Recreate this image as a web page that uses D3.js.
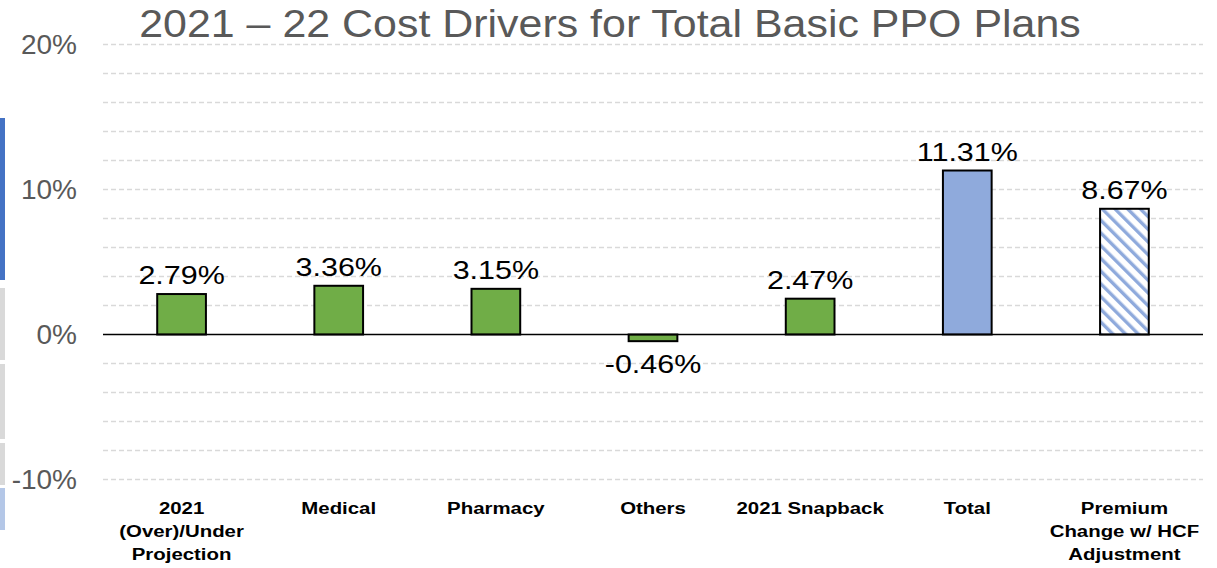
<!DOCTYPE html>
<html>
<head>
<meta charset="utf-8">
<script src="https://cdn.jsdelivr.net/npm/d3@7.9.0/dist/d3.min.js"></script>
<style>
  body { margin: 0; background: #fff; }
  svg { display: block; font-family: "Liberation Sans", Arial, sans-serif; }
</style>
</head>
<body>
<svg id="chart" width="1217" height="568"></svg>
<script>
const categories = [
  "2021\n(Over)/Under\nProjection",
  "Medical",
  "Pharmacy",
  "Others",
  "2021 Snapback",
  "Total",
  "Premium\nChange w/ HCF\nAdjustment"
];
const values = [2.79, 3.36, 3.15, -0.46, 2.47, 11.31, 8.67];
const barKinds = ["driver", "driver", "driver", "driver", "driver", "total", "premium"];
const yTicks = [-10, 0, 10, 20];
const yGrid = d3.range(-10, 20.1, 2);

const svg = d3.select("#chart");

// slide edge strips on the far left
const strips = [
  { y0: 118, y1: 280, c: "#4472c4" },
  { y0: 288, y1: 360, c: "#d9d9d9" },
  { y0: 364, y1: 439, c: "#d9d9d9" },
  { y0: 443, y1: 485, c: "#d9d9d9" },
  { y0: 488, y1: 530, c: "#b4c7e7" }
];
svg.selectAll("rect.strip").data(strips).enter().append("rect")
  .attr("class", "strip")
  .attr("x", 0).attr("width", 5)
  .attr("y", d => d.y0).attr("height", d => d.y1 - d.y0)
  .attr("fill", d => d.c);

const x = d3.scaleBand().domain(categories).range([103, 1203]).paddingInner(0.69).paddingOuter(0.345);
const y = d3.scaleLinear().domain([-10, 20]).range([479.5, 44.5]);

// hatch pattern (downward diagonal)
const defs = svg.append("defs");
const pat = defs.append("pattern")
  .attr("id", "hatch").attr("patternUnits", "userSpaceOnUse")
  .attr("width", 9).attr("height", 9)
  .attr("patternTransform", "rotate(-45)");
pat.append("rect").attr("width", 9).attr("height", 9).attr("fill", "#fff");
pat.append("rect").attr("x", 0).attr("width", 3.4).attr("height", 9).attr("fill", "#8faadc");

// gridlines
svg.append("g").selectAll("line").data(yGrid.filter(v => v !== 0)).enter().append("line")
  .attr("x1", 103).attr("x2", 1203)
  .attr("y1", d => y(d)).attr("y2", d => y(d))
  .attr("stroke", "#d9d9d9").attr("stroke-width", 1.5)
  .attr("stroke-dasharray", "5,3");

// y tick labels
svg.append("g").selectAll("text").data(yTicks).enter().append("text")
  .attr("x", 77).attr("y", d => y(d))
  .attr("text-anchor", "end").attr("dominant-baseline", "central")
  .attr("fill", "#595959").attr("font-size", 28)
  .text(d => d + "%");

const fillFor = k => k === "driver" ? "#70ad47" : k === "total" ? "#8faadc" : "url(#hatch)";

// bars
svg.append("g").selectAll("rect").data(values).enter().append("rect")
  .attr("x", (d, i) => x(categories[i]))
  .attr("width", x.bandwidth())
  .attr("y", d => y(Math.max(0, d)))
  .attr("height", d => Math.abs(y(d) - y(0)))
  .attr("fill", (d, i) => fillFor(barKinds[i]))
  .attr("stroke", "#000").attr("stroke-width", 2);

// zero line
svg.append("line")
  .attr("x1", 103).attr("x2", 1203)
  .attr("y1", y(0)).attr("y2", y(0))
  .attr("stroke", "#000").attr("stroke-width", 1.5);

// data labels (text in the source is a bit wide, so stretch it)
svg.append("g").selectAll("text").data(values).enter().append("text")
  .attr("transform", (d, i) => {
    const cx = x(categories[i]) + x.bandwidth() / 2;
    const cy = d >= 0 ? y(d) - 10 : y(d) + 32;
    return `translate(${cx},${cy}) scale(1.15,1)`;
  })
  .attr("text-anchor", "middle")
  .attr("font-size", 26.5).attr("fill", "#000")
  .text(d => d.toFixed(2) + "%");

// category labels
const cat = svg.append("g").selectAll("text").data(categories).enter().append("text")
  .attr("transform", d => `translate(${x(d) + x.bandwidth() / 2},514) scale(1.2,1)`)
  .attr("text-anchor", "middle")
  .attr("font-size", 17).attr("font-weight", "bold").attr("fill", "#000");
cat.each(function (d) {
  const t = d3.select(this);
  d.split("\n").forEach((line, i) => {
    t.append("tspan").attr("x", 0).attr("dy", i === 0 ? 0 : 23).text(line);
  });
});

// title
svg.append("text")
  .attr("transform", "translate(610,37) scale(1.13,1)")
  .attr("text-anchor", "middle")
  .attr("font-size", 38).attr("fill", "#595959")
  .text("2021 – 22 Cost Drivers for Total Basic PPO Plans");
</script>
</body>
</html>
